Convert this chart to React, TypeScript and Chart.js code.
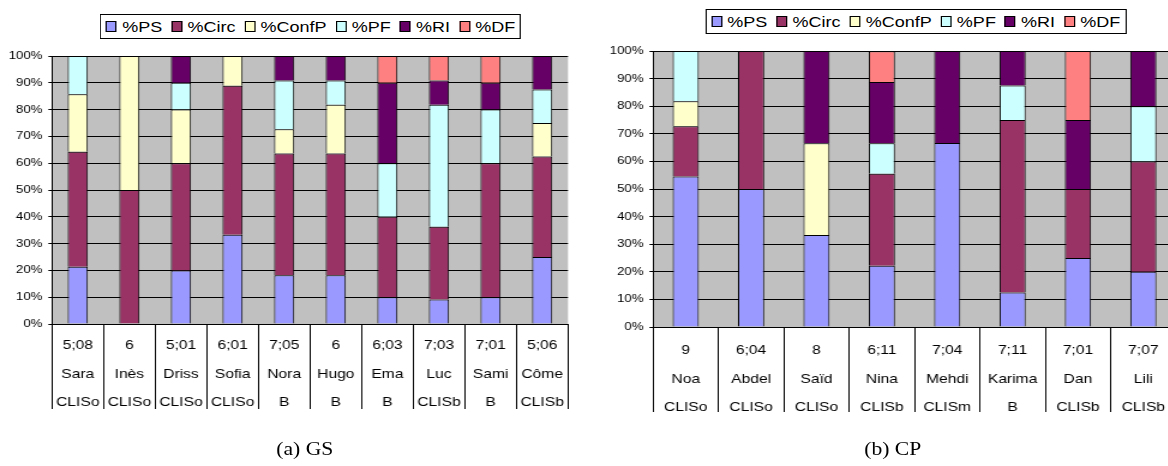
import React, { useEffect, useRef } from 'react';
import { Chart, registerables } from 'chart.js';

Chart.register(...registerables);

const SX = 1.2;
const SANS = '"Liberation Sans", Arial, Helvetica, sans-serif';
const SERIF = '"Liberation Serif", "Times New Roman", serif';

const seriesNames = ['%PS', '%Circ', '%ConfP', '%PF', '%RI', '%DF'];
const seriesColors = ['#9999FF', '#993366', '#FFFFCC', '#CCFFFF', '#660066', '#FF8080'];

const yTicks = [0, 10, 20, 30, 40, 50, 60, 70, 80, 90, 100];

// (a) GS
const gsAges = ['5;08', '6', '5;01', '6;01', '7;05', '6', '6;03', '7;03', '7;01', '5;06'];
const gsNames = ['Sara', 'Inès', 'Driss', 'Sofia', 'Nora', 'Hugo', 'Ema', 'Luc', 'Sami', 'Côme'];
const gsClasses = ['CLISo', 'CLISo', 'CLISo', 'CLISo', 'B', 'B', 'B', 'CLISb', 'B', 'CLISb'];
const gsPS = [21.4, 0, 20, 33.3, 18.2, 18.2, 10, 9.1, 10, 25];
const gsCirc = [42.9, 50, 40, 55.6, 45.4, 45.4, 30, 27.2, 50, 37.5];
const gsConfP = [21.4, 50, 20, 11.1, 9.1, 18.2, 0, 0, 0, 12.5];
const gsPF = [14.3, 0, 10, 0, 18.2, 9.1, 20, 45.5, 20, 12.5];
const gsRI = [0, 0, 10, 0, 9.1, 9.1, 30, 9.1, 10, 12.5];
const gsDF = [0, 0, 0, 0, 0, 0, 10, 9.1, 10, 0];

// (b) CP
const cpAges = ['9', '6;04', '8', '6;11', '7;04', '7;11', '7;01', '7;07'];
const cpNames = ['Noa', 'Abdel', 'Saïd', 'Nina', 'Mehdi', 'Karima', 'Dan', 'Lili'];
const cpClasses = ['CLISo', 'CLISo', 'CLISo', 'CLISb', 'CLISm', 'B', 'CLISb', 'CLISb'];
const cpPS = [54.5, 50, 33.3, 22.2, 66.7, 12.5, 25, 20];
const cpCirc = [18.2, 50, 0, 33.3, 0, 62.5, 25, 40];
const cpConfP = [9.1, 0, 33.3, 0, 0, 0, 0, 0];
const cpPF = [18.2, 0, 0, 11.1, 0, 12.5, 0, 20];
const cpRI = [0, 0, 33.4, 22.2, 33.3, 12.5, 25, 20];
const cpDF = [0, 0, 0, 11.1, 0, 0, 25, 0];

const plotBg = {
  id: 'plotBg',
  beforeDraw(chart: any) {
    const { ctx, chartArea: a } = chart;
    ctx.save();
    ctx.fillStyle = '#C0C0C0';
    ctx.fillRect(a.left, a.top, a.right - a.left, a.bottom - a.top);
    ctx.restore();
  },
};

type PanelProps = {
  left: number;
  width: number;
  height: number;
  axisWidth: number;
  padRight: number;
  padTop: number;
  plotBottom: number;
  labelPad: number;
  barPct: number;
  ages: string[];
  names: string[];
  classes: string[];
  series: number[][];
};

function BarPanel(p: PanelProps) {
  const ref = useRef<HTMLCanvasElement | null>(null);
  useEffect(() => {
    if (!ref.current) return;
    const labels = p.ages.map((a, i) => [a, p.names[i], p.classes[i]]);
    const chart = new Chart(ref.current, {
      type: 'bar',
      data: {
        labels,
        datasets: p.series.map((arr, i) => ({
          label: seriesNames[i],
          data: arr.map((v) => (v === 0 ? null : v)),
          backgroundColor: seriesColors[i],
          borderColor: '#000',
          borderWidth: 1,
          barPercentage: p.barPct,
          categoryPercentage: 1,
        })),
      },
      options: {
        responsive: false,
        animation: false,
        devicePixelRatio: 1,
        layout: { padding: { left: 0, right: p.padRight, top: p.padTop, bottom: 0 } },
        plugins: { legend: { display: false }, tooltip: { enabled: false } },
        scales: {
          x: {
            stacked: true,
            offset: true,
            grid: {
              offset: true,
              drawOnChartArea: false,
              drawTicks: true,
              tickLength: 85,
              color: '#000',
              lineWidth: 1,
            },
            border: { display: true, color: '#000', width: 1 },
            ticks: {
              color: '#000',
              font: { family: SANS, size: 13, lineHeight: '28.5px' },
              padding: p.labelPad,
              maxRotation: 0,
              minRotation: 0,
              autoSkip: false,
            },
            afterFit: (s: any) => {
              s.height = p.height - p.plotBottom;
            },
          },
          y: {
            stacked: true,
            min: 0,
            max: 100,
            afterBuildTicks: (s: any) => {
              s.ticks = yTicks.map((v) => ({ value: v }));
            },
            ticks: {
              callback: (v: any) => v + '%',
              color: '#000',
              font: { family: SANS, size: 11 },
              padding: 5,
            },
            grid: { color: '#000', lineWidth: 1, tickLength: 3, drawTicks: true },
            border: { display: true, color: '#000', width: 1 },
            afterFit: (s: any) => {
              s.width = p.axisWidth;
            },
          },
        },
      },
      plugins: [plotBg],
    } as any);
    return () => chart.destroy();
  }, []);
  return (
    <canvas
      ref={ref}
      width={p.width}
      height={p.height}
      style={{ position: 'absolute', left: p.left, top: 0, width: p.width, height: p.height }}
    />
  );
}

function Legend({ left, top }: { left: number; top: number }) {
  return (
    <div
      style={{
        position: 'absolute',
        left,
        top,
        height: 25,
        boxSizing: 'border-box',
        border: '1px solid #000',
        background: '#fff',
        display: 'flex',
        alignItems: 'center',
        padding: '0 4px',
        fontFamily: SANS,
        fontSize: 15,
        whiteSpace: 'nowrap',
        color: '#000',
      }}
    >
      {seriesNames.map((n, i) => (
        <span
          key={n}
          style={{ display: 'flex', alignItems: 'center', marginRight: i < seriesNames.length - 1 ? 7.5 : 0 }}
        >
          <span
            style={{
              display: 'inline-block',
              width: 9,
              height: 11,
              boxSizing: 'border-box',
              border: '1px solid #000',
              background: seriesColors[i],
              marginRight: 4.5,
            }}
          />
          {n}
        </span>
      ))}
    </div>
  );
}

function Caption({ cx, text }: { cx: number; text: string }) {
  return (
    <div
      style={{
        position: 'absolute',
        left: cx - 100,
        width: 200,
        top: 440,
        textAlign: 'center',
        fontFamily: SERIF,
        fontSize: 18,
        lineHeight: '18px',
        color: '#000',
      }}
    >
      {text}
    </div>
  );
}

export default function App() {
  return (
    <div
      style={{
        position: 'fixed',
        left: 0,
        top: 0,
        width: 1168,
        height: 466,
        overflow: 'hidden',
        background: '#fff',
      }}
    >
      <div
        style={{
          position: 'absolute',
          left: 0,
          top: 0,
          width: 1000,
          height: 466,
          transform: `scaleX(${SX})`,
          transformOrigin: '0 0',
        }}
      >
        <BarPanel
          left={0}
          width={490}
          height={420}
          axisWidth={43.3}
          padRight={16.7}
          padTop={56}
          plotBottom={324}
          labelPad={-77.5}
          barPct={0.39}
          ages={gsAges}
          names={gsNames}
          classes={gsClasses}
          series={[gsPS, gsCirc, gsConfP, gsPF, gsRI, gsDF]}
        />
        <BarPanel
          left={500}
          width={500}
          height={420}
          axisWidth={44.2}
          padRight={20}
          padTop={51}
          plotBottom={327}
          labelPad={-75.5}
          barPct={0.4}
          ages={cpAges}
          names={cpNames}
          classes={cpClasses}
          series={[cpPS, cpCirc, cpConfP, cpPF, cpRI, cpDF]}
        />
        <Legend left={83.3} top={14} />
        <Legend left={587.5} top={9} />
        <Caption cx={254} text="(a) GS" />
        <Caption cx={744} text="(b) CP" />
      </div>
    </div>
  );
}
